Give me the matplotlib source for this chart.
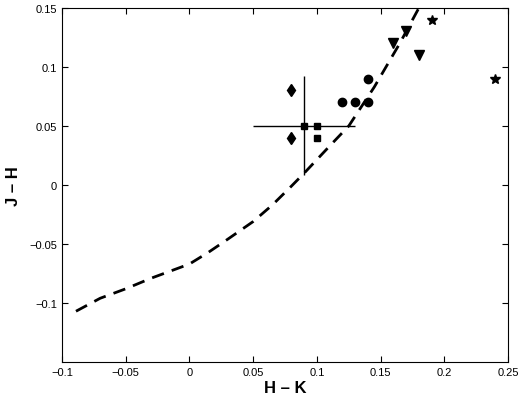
import matplotlib
matplotlib.use('Agg')
import matplotlib.pyplot as plt

plt.rcParams['font.family'] = ['Liberation Sans', 'DejaVu Sans']

# dashed reference curve
curve_hk = [-0.089, -0.07, -0.05, -0.03, -0.01, 0.0, 0.015, 0.03, 0.05, 0.065, 0.08, 0.09, 0.11, 0.125, 0.145, 0.165, 0.18]
curve_jh = [-0.107, -0.096, -0.088, -0.079, -0.071, -0.067, -0.057, -0.046, -0.031, -0.017, -0.001, 0.010, 0.033, 0.050, 0.083, 0.120, 0.150]

diam_hk = [0.08, 0.08]
diam_jh = [0.08, 0.04]
sq_hk = [0.09, 0.10, 0.10]
sq_jh = [0.05, 0.05, 0.04]
circ_hk = [0.12, 0.13, 0.14, 0.14]
circ_jh = [0.07, 0.07, 0.07, 0.09]
tri_hk = [0.16, 0.17, 0.18]
tri_jh = [0.12, 0.13, 0.11]
star_hk = [0.19, 0.24]
star_jh = [0.14, 0.09]

err_x, err_y = 0.09, 0.05
err_dx, err_dy = 0.04, 0.042

fig = plt.figure(figsize=(5.25, 4.02), dpi=100)
ax = fig.add_axes([0.118, 0.097, 0.85, 0.881])

ax.plot(curve_hk, curve_jh, 'k--', lw=2, dashes=(4.5, 3))
ax.errorbar(err_x, err_y, xerr=err_dx, yerr=err_dy, fmt='none', ecolor='k', elinewidth=1, capsize=0)
ax.plot(diam_hk, diam_jh, 'kd', ms=6, ls='none')
ax.plot(sq_hk, sq_jh, 'ks', ms=4, ls='none')
ax.plot(circ_hk, circ_jh, 'ko', ms=6, ls='none')
ax.plot(tri_hk, tri_jh, 'kv', ms=6.5, ls='none')
ax.plot(star_hk, star_jh, 'k*', ms=7, ls='none')

ax.set_xlim(-0.1, 0.25)
ax.set_ylim(-0.15, 0.15)
ax.set_xticks([-0.1, -0.05, 0, 0.05, 0.1, 0.15, 0.2, 0.25])
ax.set_xticklabels(['\u22120.1', '\u22120.05', '0', '0.05', '0.1', '0.15', '0.2', '0.25'])
ax.set_yticks([-0.1, -0.05, 0, 0.05, 0.1, 0.15])
ax.set_yticklabels(['\u22120.1', '\u22120.05', '0', '0.05', '0.1', '0.15'])
ax.tick_params(direction='in', top=True, right=True, labelsize=8, length=4)
ax.set_xlabel('H \u2013 K', fontsize=12, fontweight='bold', labelpad=2)
ax.set_ylabel('J \u2013 H', fontsize=12, fontweight='bold', labelpad=6)

fig.savefig('out.png', dpi=100)
